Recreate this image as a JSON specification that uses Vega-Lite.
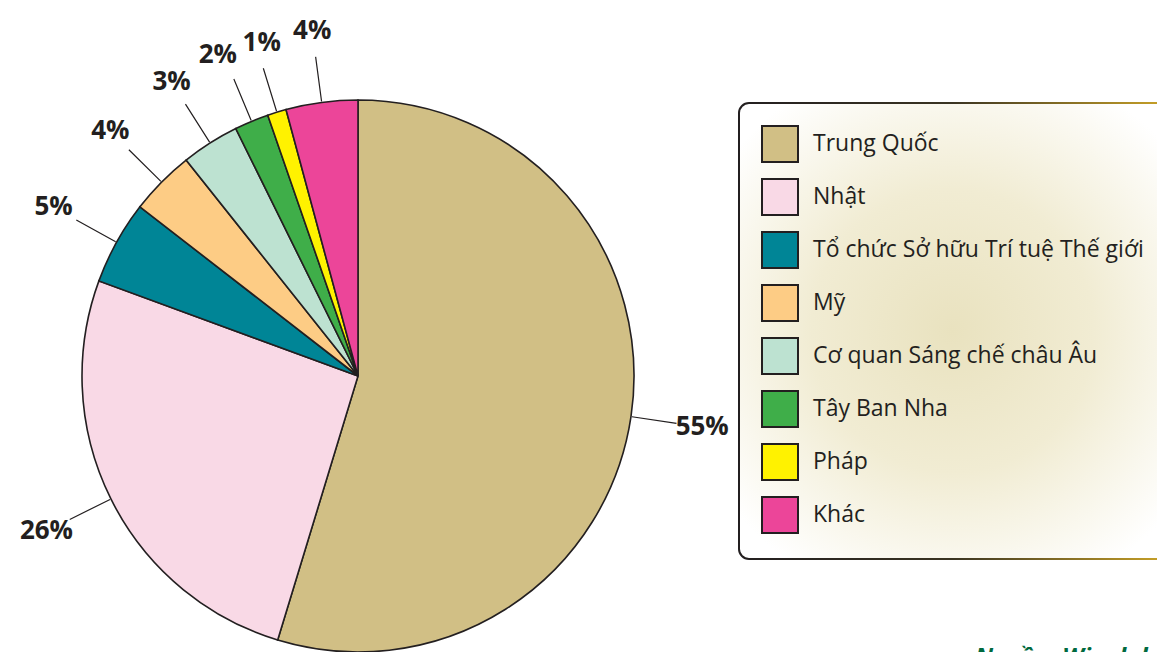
{
  "$schema": "https://vega.github.io/schema/vega-lite/v6.json",
  "autosize": "none",
  "width": 716,
  "height": 552,
  "padding": {"left": 0, "top": 100, "right": 441, "bottom": 0},
  "background": "white",
  "config": {"legend": {"strokeWidth": 2}},
  "title": {
    "text": "Nguồn: Wipolabs",
    "orient": "bottom",
    "anchor": "start",
    "frame": "group",
    "dx": 975,
    "offset": -9,
    "color": "#00693e",
    "font": "Open Sans",
    "fontStyle": "italic",
    "fontWeight": "bold",
    "fontSize": 24
  },
  "data": {
    "values": [
      {"idx": 1, "country": "Trung Quốc", "value": 54.7, "label": "55%"},
      {"idx": 2, "country": "Nhật", "value": 25.9, "label": "26%"},
      {"idx": 3, "country": "Tổ chức Sở hữu Trí tuệ Thế giới", "value": 4.9, "label": "5%"},
      {"idx": 4, "country": "Mỹ", "value": 3.8, "label": "4%"},
      {"idx": 5, "country": "Cơ quan Sáng chế châu Âu", "value": 3.4, "label": "3%"},
      {"idx": 6, "country": "Tây Ban Nha", "value": 2.0, "label": "2%"},
      {"idx": 7, "country": "Pháp", "value": 1.1, "label": "1%"},
      {"idx": 8, "country": "Khác", "value": 4.2, "label": "4%"}
    ]
  },
  "layer": [
    {
      "mark": {"type": "arc", "outerRadius": 276, "stroke": "#231f20", "strokeWidth": 1.6},
      "encoding": {
        "theta": {"field": "value", "type": "quantitative", "stack": true},
        "order": {"field": "idx", "type": "quantitative"},
        "color": {
          "field": "country",
          "type": "nominal",
          "scale": {
            "domain": ["Trung Quốc", "Nhật", "Tổ chức Sở hữu Trí tuệ Thế giới", "Mỹ", "Cơ quan Sáng chế châu Âu", "Tây Ban Nha", "Pháp", "Khác"],
            "range": ["#d1bf85", "#f9d9e6", "#008596", "#fdcc85", "#bde2d1", "#3fae49", "#fff200", "#ec4599"]
          },
          "legend": {
            "title": null,
            "orient": "none",
            "legendX": 739,
            "legendY": 3,
            "padding": 22,
            "cornerRadius": 10,
            "strokeColor": {"expr": "{gradient: 'linear', x1: 0, y1: 0, x2: 1, y2: 0, stops: [{offset: 0, color: '#231f20'}, {offset: 0.5, color: '#3a3422'}, {offset: 1, color: '#c9a227'}]}"},
            "fillColor": {"expr": "{gradient: 'radial', x1: 0.5, y1: 0.5, r1: 0, x2: 0.5, y2: 0.5, r2: 0.62, stops: [{offset: 0, color: '#e9e2bf'}, {offset: 0.5, color: '#f1ecd3'}, {offset: 1, color: '#ffffff'}]}"},
            "symbolType": "square",
            "symbolSize": 1296,
            "symbolStrokeColor": "#231f20",
            "symbolStrokeWidth": 2,
            "symbolOpacity": 1,
            "labelFont": "Open Sans",
            "labelFontSize": 23,
            "labelColor": "#231f20",
            "labelOffset": 14,
            "labelLimit": 0,
            "rowPadding": 9
          }
        }
      }
    },
    {
      "transform": [
        {"stack": "value", "groupby": [], "sort": [{"field": "idx", "order": "ascending"}], "as": ["v0", "v1"]},
        {"fold": ["v0", "v1"], "as": ["edge", "ang"]},
        {"aggregate": [{"op": "mean", "field": "ang", "as": "mid"}], "groupby": ["country"]}
      ],
      "mark": {"type": "arc", "innerRadius": 277, "outerRadius": 322, "filled": false, "stroke": "#231f20", "strokeWidth": 1.2},
      "encoding": {
        "theta": {"field": "mid", "type": "quantitative", "stack": null},
        "theta2": {"field": "mid"}
      }
    },
    {
      "mark": {"type": "text", "radius": 348, "font": "Open Sans", "fontSize": 26, "fontWeight": "bold", "fill": "#231f20"},
      "encoding": {
        "theta": {"field": "value", "type": "quantitative", "stack": true},
        "order": {"field": "idx", "type": "quantitative"},
        "detail": {"field": "country"},
        "text": {"condition": {"test": "datum.country !== 'Tây Ban Nha' && datum.country !== 'Pháp'", "field": "label"}, "value": ""}
      }
    },
    {
      "mark": {"type": "text", "radius": 348, "dx": -6, "font": "Open Sans", "fontSize": 26, "fontWeight": "bold", "fill": "#231f20"},
      "encoding": {
        "theta": {"field": "value", "type": "quantitative", "stack": true},
        "order": {"field": "idx", "type": "quantitative"},
        "detail": {"field": "country"},
        "text": {"condition": {"test": "datum.country === 'Tây Ban Nha'", "field": "label"}, "value": ""}
      }
    },
    {
      "mark": {"type": "text", "radius": 348, "dx": 6, "font": "Open Sans", "fontSize": 26, "fontWeight": "bold", "fill": "#231f20"},
      "encoding": {
        "theta": {"field": "value", "type": "quantitative", "stack": true},
        "order": {"field": "idx", "type": "quantitative"},
        "detail": {"field": "country"},
        "text": {"condition": {"test": "datum.country === 'Pháp'", "field": "label"}, "value": ""}
      }
    }
  ]
}
